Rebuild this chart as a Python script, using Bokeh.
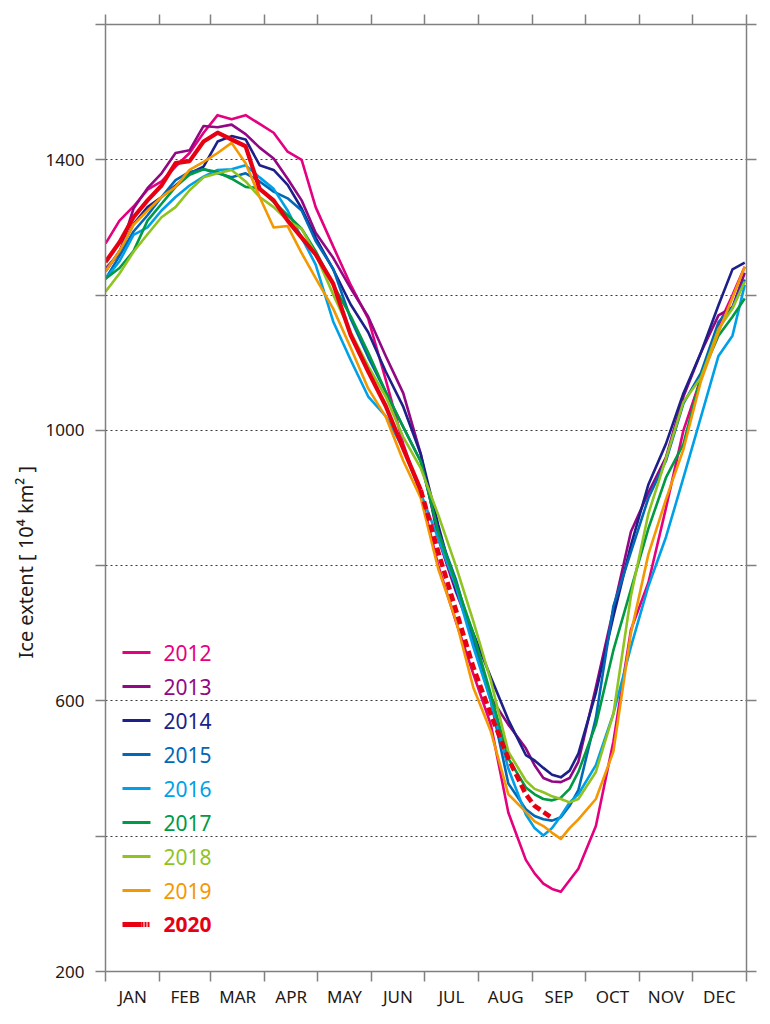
import math
from bokeh.plotting import figure
from bokeh.models import Range1d, FixedTicker, LinearAxis, Label, Title
from bokeh.embed import file_html
from bokeh.resources import INLINE

# ---------------- data ----------------
DAYS = [0, 8, 16, 24, 32, 40, 48, 56, 64, 72, 80, 88, 96, 104, 112, 120,
        130, 140, 150, 160, 170, 180, 190, 200, 210, 220, 230,
        240, 245, 250, 255, 260, 265, 270,
        280, 290, 300, 310, 320, 330, 340, 350, 358, 365]

Y2012 = [1276, 1310, 1331, 1356, 1368, 1390, 1410, 1440, 1466, 1460, 1466, 1453, 1440, 1412, 1400, 1330,
         1272, 1215, 1165, 1075, 980, 906, 800, 718, 640, 565, 435,
         365, 345, 330, 322, 318, 335, 352,
         415, 540, 705, 775, 885, 1000, 1077, 1155, 1200, 1242]
Y2013 = [1239, 1262, 1328, 1358, 1380, 1410, 1414, 1450, 1448, 1452, 1438, 1418, 1402, 1372, 1340, 1292,
         1255, 1210, 1168, 1110, 1055, 965, 840, 762, 695, 605, 565,
         530, 505, 486, 481, 480, 486, 510,
         620, 735, 850, 908, 960, 1050, 1115, 1170, 1182, 1233]
Y2014 = [1235, 1265, 1305, 1330, 1345, 1362, 1380, 1390, 1427, 1435, 1430, 1392, 1385, 1363, 1328, 1285,
         1238, 1186, 1145, 1087, 1035, 965, 860, 765, 700, 635, 572,
         520, 512, 501, 491, 487, 497, 522,
         612, 725, 830, 920, 980, 1055, 1115, 1185, 1238, 1248]
Y2015 = [1224, 1258, 1294, 1318, 1345, 1370, 1382, 1386, 1380, 1374, 1380, 1368, 1353, 1343, 1325, 1280,
         1239, 1165, 1108, 1057, 1005, 954, 850, 780, 690, 600, 478,
         440, 430, 425, 423, 428, 445, 468,
         575, 740, 820, 900, 955, 1040, 1085, 1160, 1182, 1223]
Y2016 = [1224, 1250, 1289, 1300, 1325, 1345, 1362, 1375, 1385, 1386, 1392, 1374, 1357, 1325, 1285, 1245,
         1161, 1104, 1050, 1021, 973, 907, 840, 770, 680, 600, 500,
         432, 412, 401, 412, 430, 450, 462,
         505, 581, 680, 770, 842, 930, 1020, 1110, 1140, 1215]
Y2017 = [1224, 1240, 1265, 1310, 1335, 1360, 1378, 1386, 1382, 1372, 1360, 1358, 1338, 1318, 1298, 1265,
         1215, 1169, 1115, 1057, 1005, 954, 850, 775, 700, 610, 515,
         472, 462, 455, 453, 457, 470, 495,
         565, 675, 765, 855, 930, 980, 1080, 1140, 1168, 1195]
Y2018 = [1205, 1232, 1264, 1290, 1315, 1330, 1355, 1374, 1380, 1385, 1368, 1345, 1330, 1310, 1298, 1260,
         1201, 1145, 1095, 1050, 990, 944, 875, 800, 718, 630, 525,
         482, 470, 465, 459, 455, 450, 455,
         495, 581, 755, 877, 958, 1042, 1078, 1150, 1180, 1220]
Y2019 = [1235, 1265, 1304, 1325, 1345, 1360, 1385, 1397, 1410, 1425, 1395, 1345, 1300, 1302, 1262, 1225,
         1180, 1122, 1062, 1020, 955, 900, 795, 720, 620, 555, 462,
         436, 422, 415, 405, 396, 412, 425,
         455, 525, 700, 817, 898, 972, 1073, 1145, 1196, 1242]

DAYS_2020 = DAYS[:31]
Y2020 = [1249, 1278, 1315, 1340, 1362, 1395, 1398, 1427, 1440, 1430, 1420, 1357, 1340, 1310, 1285, 1260,
         1217, 1141, 1087, 1036, 973, 912, 820, 735, 650, 580, 515,
         462, 445, 436, 427]
SOLID_END_2020 = 180   # day where the solid part ends and the dashed part starts

YEARS = ["2012", "2013", "2014", "2015", "2016", "2017", "2018", "2019", "2020"]
SERIES = [Y2012, Y2013, Y2014, Y2015, Y2016, Y2017, Y2018, Y2019]
COLORS = ["#E4007F", "#920783", "#1D2088", "#0068B7", "#00A0E9",
          "#009944", "#8FC31F", "#F39800", "#E60012"]

MONTHS = ["JAN", "FEB", "MAR", "APR", "MAY", "JUN", "JUL", "AUG", "SEP", "OCT", "NOV", "DEC"]
MONTH_EDGES = [0, 31, 60, 91, 121, 152, 182, 213, 244, 274, 305, 335, 366]
Y_LABELED = [200, 600, 1000, 1400]
Y_ALL = [200, 400, 600, 800, 1000, 1200, 1400, 1600]
Y_GRID = [400, 600, 800, 1000, 1200, 1400]
Y_TITLE = "Ice extent [ 10\u2074 km\u00b2 ]"

# ---------------- layout constants ----------------
FRAME_W, FRAME_H = 641, 947
FONT = "Noto Sans"
AXIS_COLOR = "#808080"
TEXT_COLOR = "#231815"

p = figure(frame_width=FRAME_W, frame_height=FRAME_H,
           x_range=Range1d(0, 366), y_range=Range1d(200, 1600),
           output_backend="svg", toolbar_location=None,
           min_border_left=105, min_border_top=24, min_border_right=16, min_border_bottom=40)
p.outline_line_color = None
p.background_fill_color = "white"
p.border_fill_color = "white"


def style_axis(ax):
    ax.axis_line_color = AXIS_COLOR
    ax.axis_line_width = 1.5
    ax.major_tick_line_color = AXIS_COLOR
    ax.minor_tick_line_color = AXIS_COLOR
    ax.major_tick_line_width = 1.5
    ax.minor_tick_line_width = 1.5
    ax.major_tick_in = 0
    ax.minor_tick_in = 0
    ax.major_label_text_font = FONT
    ax.major_label_text_color = TEXT_COLOR


# left axis
yax = p.yaxis[0]
style_axis(yax)
yax.ticker = FixedTicker(ticks=Y_LABELED, minor_ticks=[v for v in Y_ALL if v not in Y_LABELED])
yax.major_tick_out = 10
yax.minor_tick_out = 10
yax.major_label_standoff = 11
yax.major_label_text_font_size = "17px"

# bottom axis: labels at mid-month, ticks at month edges
mids = [(a + b) / 2 for a, b in zip(MONTH_EDGES[:-1], MONTH_EDGES[1:])]
xax = p.xaxis[0]
style_axis(xax)
xax.ticker = FixedTicker(ticks=mids, minor_ticks=MONTH_EDGES)
xax.major_tick_out = 0
xax.major_tick_line_color = None
xax.minor_tick_out = 10
xax.major_label_standoff = 3
xax.major_label_text_font_size = "17px"
xax.major_label_overrides = {m: name for m, name in zip(mids, MONTHS)}

# top & right axes (ticks only)
top = LinearAxis(ticker=FixedTicker(ticks=[], minor_ticks=MONTH_EDGES))
style_axis(top)
top.minor_tick_out = 10
top.major_tick_out = 0
top.major_label_text_font_size = "0px"
p.add_layout(top, "above")

right = LinearAxis(ticker=FixedTicker(ticks=[], minor_ticks=Y_ALL))
style_axis(right)
right.minor_tick_out = 10
right.major_tick_out = 0
right.major_label_text_font_size = "0px"
p.add_layout(right, "right")

# y-axis title (placed on the left side, shifted down like the original)
p.add_layout(Title(text=Y_TITLE, align="left", offset=313, standoff=8,
                   text_font=FONT, text_font_size="20px", text_font_style="normal",
                   text_color=TEXT_COLOR), "left")

# grid
p.xgrid.visible = False
p.ygrid.ticker = FixedTicker(ticks=Y_GRID)
p.ygrid.grid_line_color = "#3a3a3a"
p.ygrid.grid_line_dash = "2 3"
p.ygrid.grid_line_width = 1

# ---------------- series ----------------
for ys, c in zip(SERIES, COLORS[:-1]):
    p.line(DAYS, ys, line_color=c, line_width=2.6, line_join="round")

k = DAYS_2020.index(SOLID_END_2020)
p.line(DAYS_2020[:k + 1], Y2020[:k + 1], line_color=COLORS[-1], line_width=4.2, line_join="round")
p.line(DAYS_2020[k:], Y2020[k:], line_color=COLORS[-1], line_width=4.6, line_dash="8 4")

# ---------------- legend (hand-built, coloured texts) ----------------
def dx(px):
    return px * 366 / FRAME_W


def dy(py):
    return 200 + py * 1400 / FRAME_H


ROW0, ROW_STEP = 319, 34
for i, (yr, c) in enumerate(zip(YEARS, COLORS)):
    ry = ROW0 - ROW_STEP * i
    if yr == "2020":
        p.line([dx(17), dx(36)], [dy(ry), dy(ry)], line_color=c, line_width=5)
        p.line([dx(36), dx(45)], [dy(ry), dy(ry)], line_color=c, line_width=5, line_dash="2 1")
    else:
        p.line([dx(17), dx(45)], [dy(ry), dy(ry)], line_color=c, line_width=3)
    p.add_layout(Label(x=58, y=ry, x_units="screen", y_units="screen", text=yr,
                       text_color=c, text_font=FONT, text_font_size="21px",
                       text_font_style="bold" if yr == "2020" else "normal",
                       text_baseline="middle", text_align="left"))

open("out.html", "w").write(file_html(p, INLINE))
